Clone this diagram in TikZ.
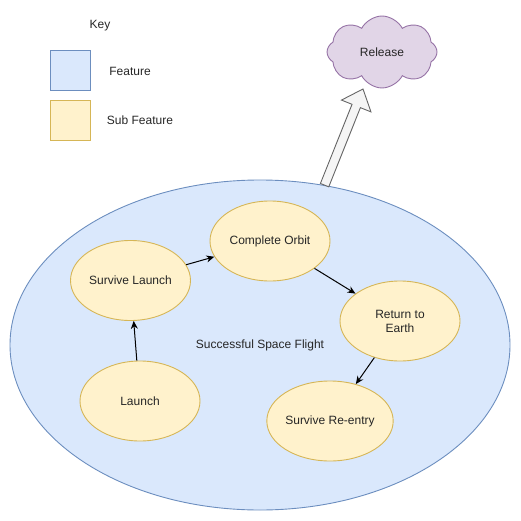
\documentclass[tikz,border=0pt]{standalone}
\usepackage{fontspec}
\setmainfont{Liberation Sans}
\usetikzlibrary{shapes.geometric,shapes.symbols,arrows.meta,calc}
\newlength{\du}
\setlength{\du}{15\unitlength}
\definecolor{featurefill}{HTML}{DAE8FC}
\definecolor{featureline}{HTML}{6C8EBF}
\definecolor{subfill}{HTML}{FFF2CC}
\definecolor{subline}{HTML}{D6B656}
\definecolor{releasefill}{HTML}{E1D5E7}
\definecolor{releaseline}{HTML}{9673A6}
\definecolor{blockfill}{HTML}{F5F5F5}
\definecolor{blockline}{HTML}{666666}
\tikzset{
  every node/.style={font=\fontsize{12}{14}\selectfont, text=black!85},
  feature/.style={ellipse, draw=featureline, fill=featurefill, line width=0.060000\du,
    minimum width=33.333333\du, minimum height=22.000000\du, inner sep=0pt},
  subfeature/.style={ellipse, draw=subline, fill=subfill, line width=0.060000\du,
    minimum width=8.000000\du, minimum height=5.333333\du, inner sep=0pt, align=center},
  keybox/.style={rectangle, line width=0.060000\du, minimum size=2.666667\du, inner sep=0pt},
  release/.style={cloud, cloud puffs=8, cloud puff arc=125, draw=releaseline, fill=releasefill,
    line width=0.060000\du, minimum width=7.333333\du, minimum height=4.666667\du, inner sep=0pt},
  flow/.style={draw=black, line width=1pt, -{Stealth[length=8pt, width=7pt]}},
  blockarrow/.style={draw=blockline, fill=blockfill, line width=0.060000\du, line join=miter},
}
\begin{document}
\begin{tikzpicture}
\pgftransformxscale{1.000000}
\pgftransformyscale{-1.000000}
\useasboundingbox (0.000000\du,0.000000\du) rectangle (34.733333\du,34.733333\du);
% key
\node (key) at (6.666667\du,1.733333\du) {Key};
\node[keybox, draw=featureline, fill=featurefill] (featurekey) at (4.666667\du,4.666667\du) {};
\node (featuretext) at (8.666667\du,4.733333\du) {Feature};
\node[keybox, draw=subline, fill=subfill] (subkey) at (4.666667\du,8.000000\du) {};
\node (subtext) at (9.333333\du,8.000000\du) {Sub Feature};
% release
\node[release] (release) at (25.466667\du,3.466667\du) {Release};
% feature
\node[feature] (flight) at (17.333333\du,23.000000\du) {Successful Space Flight};
\node[subfeature] (survivelaunch) at (8.700000\du,18.700000\du) {Survive Launch};
\node[subfeature] (orbit) at (18.000000\du,16.066667\du) {Complete Orbit};
\node[subfeature] (return) at (26.666667\du,21.400000\du) {Return to\\Earth};
\node[subfeature] (launch) at (9.333333\du,26.733333\du) {Launch};
\node[subfeature] (reentry) at (22.000000\du,28.066667\du) {Survive Re-entry};
\draw[flow] (launch) -- (survivelaunch);
\draw[flow] (survivelaunch) -- (orbit);
\draw[flow] (orbit) -- (return);
\draw[flow] (return) -- (reentry);
% release arrow
\coordinate (tail) at (flight.68);
\coordinate (tip) at (24.200000\du,5.933333\du);
\coordinate (neck) at ($(tip)!1.220000\du!(tail)$);
\draw[blockarrow] ($(tail)!0.300000\du!90:(tip)$) -- ($(neck)!0.300000\du!-90:(tail)$)
  -- ($(neck)!1.060000\du!-90:(tail)$) -- (tip) -- ($(neck)!1.060000\du!90:(tail)$)
  -- ($(neck)!0.300000\du!90:(tail)$) -- ($(tail)!0.300000\du!-90:(tip)$) -- cycle;
\end{tikzpicture}
\end{document}
